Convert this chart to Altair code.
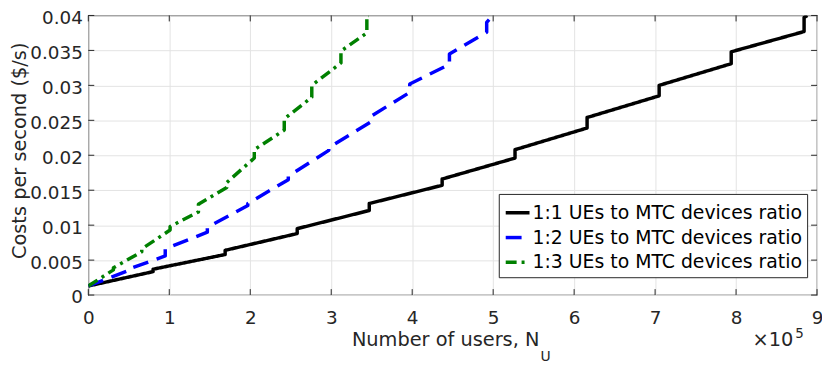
import altair as alt
import pandas as pd

series_names = ["1:1 UEs to MTC devices ratio",
                "1:2 UEs to MTC devices ratio",
                "1:3 UEs to MTC devices ratio"]
series_colors = ["#000000", "#0000ff", "#008000"]
series_dashes = [[1, 0], [16, 9], [11, 5, 3, 5]]

start_cost = 0.0013

# 1:1 ratio
s1_step_x = [0.80, 1.69, 2.58, 3.47, 4.37, 5.27, 6.16, 7.05, 7.94, 8.84]
s1_before = [0.00335, 0.0058, 0.0088, 0.0121, 0.0157, 0.0196, 0.0239, 0.0285, 0.0331, 0.0377]
s1_after = [0.0037, 0.0064, 0.0095, 0.0131, 0.0166, 0.0208, 0.0254, 0.0300, 0.0348, 0.0397]
s1_end = [8.88, 0.0400]

# 1:2 ratio
s2_step_x = [0.47, 0.95, 1.47, 1.97, 2.47, 2.97, 3.48, 3.97, 4.46, 4.92]
s2_before = [0.0034, 0.0056, 0.0090, 0.0128, 0.0165, 0.0207, 0.0247, 0.0290, 0.0330, 0.0376]
s2_after = [0.0036, 0.0066, 0.0097, 0.0131, 0.0170, 0.0211, 0.0255, 0.0302, 0.0345, 0.0390]
s2_end = [4.95, 0.0394]

# 1:3 ratio
s3_step_x = [0.31, 0.66, 1.01, 1.36, 1.71, 2.05, 2.42, 2.76, 3.12, 3.44]
s3_before = [0.0036, 0.0062, 0.0093, 0.0119, 0.0154, 0.0196, 0.0236, 0.0283, 0.0332, 0.0375]
s3_after = [0.0039, 0.0066, 0.0098, 0.0130, 0.0161, 0.0208, 0.0252, 0.0300, 0.0349, 0.0400]
s3_end = [3.46, 0.0400]

x_ticks = [0, 1, 2, 3, 4, 5, 6, 7, 8, 9]
y_ticks = [0, 0.005, 0.01, 0.015, 0.02, 0.025, 0.03, 0.035, 0.04]

rows = []
idx = 0
for name, sx, sb, sa, se in [
    (series_names[0], s1_step_x, s1_before, s1_after, s1_end),
    (series_names[1], s2_step_x, s2_before, s2_after, s2_end),
    (series_names[2], s3_step_x, s3_before, s3_after, s3_end),
]:
    pts = [(0.0, start_cost)]
    for xv, b, a in zip(sx, sb, sa):
        pts.append((xv, b))
        pts.append((xv, a))
    pts.append((se[0], se[1]))
    for xv, yv in pts:
        rows.append({"series": name, "x": xv, "y": yv, "idx": idx})
        idx += 1
df = pd.DataFrame(rows)

W, H = 735, 282
FONT = "DejaVu Sans"
AX = "#262626"
TICK_LEN = 6

xs = alt.Scale(domain=[0, 9], nice=False, zero=False)
ys = alt.Scale(domain=[0, 0.04], nice=False, zero=False)

x_axis = alt.Axis(values=x_ticks, format="d", title=None, grid=True,
                  ticks=False, tickSize=0, domain=False, labelPadding=14,
                  labelFont=FONT, labelFontSize=18.5, labelColor=AX,
                  gridColor="#e3e3e3", labelFlush=False)
y_axis = alt.Axis(values=y_ticks, format="~g", title="Costs per second ($/s)",
                  grid=True, ticks=False, tickSize=0, domain=False,
                  labelPadding=6, labelFont=FONT, labelFontSize=18.5, labelOffset=2,
                  labelColor=AX, gridColor="#e3e3e3",
                  titleFont=FONT, titleFontSize=19.5, titleFontWeight="normal",
                  titleColor=AX, titleAngle=270, titleAlign="center",
                  titleBaseline="middle", titleX=-69, titleY=136,
                  labelFlush=False)

lines = alt.Chart(df).mark_line(strokeWidth=3.5, clip=True, strokeJoin="round").encode(
    x=alt.X("x:Q", scale=xs, axis=x_axis),
    y=alt.Y("y:Q", scale=ys, axis=y_axis),
    color=alt.Color("series:N", scale=alt.Scale(domain=series_names, range=series_colors),
                    legend=alt.Legend(title=None)),
    strokeDash=alt.StrokeDash("series:N", scale=alt.Scale(domain=series_names, range=series_dashes),
                              legend=alt.Legend(title=None)),
    order=alt.Order("idx:Q"),
)

xt = pd.DataFrame({"x": x_ticks})
yt = pd.DataFrame({"y": y_ticks})
tick_style = dict(color=AX, strokeWidth=1)
bottom_ticks = alt.Chart(xt).mark_rule(**tick_style).encode(
    x=alt.X("x:Q", scale=xs, axis=x_axis), y=alt.value(H), y2=alt.value(H - TICK_LEN))
top_ticks = alt.Chart(xt).mark_rule(**tick_style).encode(
    x=alt.X("x:Q", scale=xs, axis=x_axis), y=alt.value(0), y2=alt.value(TICK_LEN))
left_ticks = alt.Chart(yt).mark_rule(**tick_style).encode(
    y=alt.Y("y:Q", scale=ys, axis=y_axis), x=alt.value(0), x2=alt.value(TICK_LEN))
right_ticks = alt.Chart(yt).mark_rule(**tick_style).encode(
    y=alt.Y("y:Q", scale=ys, axis=y_axis), x=alt.value(W), x2=alt.value(W - TICK_LEN))

one = pd.DataFrame({"k": [0]})
xtitle = alt.Chart(one).mark_text(text="Number of users, N", font=FONT, fontSize=19.5, color=AX,
                                  align="right", baseline="alphabetic").encode(
    x=alt.value(455), y=alt.value(333))
xsub = alt.Chart(one).mark_text(text="U", font=FONT, fontSize=14, color=AX,
                                align="left", baseline="alphabetic").encode(
    x=alt.value(456), y=alt.value(349))
xexp = alt.Chart(one).mark_text(text="×10", font=FONT, fontSize=19.5, color=AX,
                                align="right", baseline="alphabetic").encode(
    x=alt.value(711), y=alt.value(333))
xexp5 = alt.Chart(one).mark_text(text="5", font=FONT, fontSize=13.5, color=AX,
                                 align="left", baseline="alphabetic").encode(
    x=alt.value(713), y=alt.value(325))

chart = alt.layer(lines, bottom_ticks, top_ticks, left_ticks, right_ticks,
                  xtitle, xsub, xexp, xexp5).properties(
    width=W, height=H,
    padding={"left": 81, "top": 6, "right": 5, "bottom": 68},
    autosize=alt.AutoSizeParams(type="none"),
).configure_view(
    stroke=AX, strokeWidth=1.2
).configure_legend(
    orient="none", legendX=414, legendY=180, direction="vertical",
    padding=5, strokeColor=AX, fillColor="white", cornerRadius=0,
    labelFont=FONT, labelFontSize=19, labelColor="#000000", labelLimit=500,
    symbolType="stroke", symbolSize=576, symbolStrokeWidth=3.5, labelOffset=1,
    rowPadding=1, symbolOpacity=1,
)

chart.save("out.html", embed_options={"renderer": "svg", "actions": False})
